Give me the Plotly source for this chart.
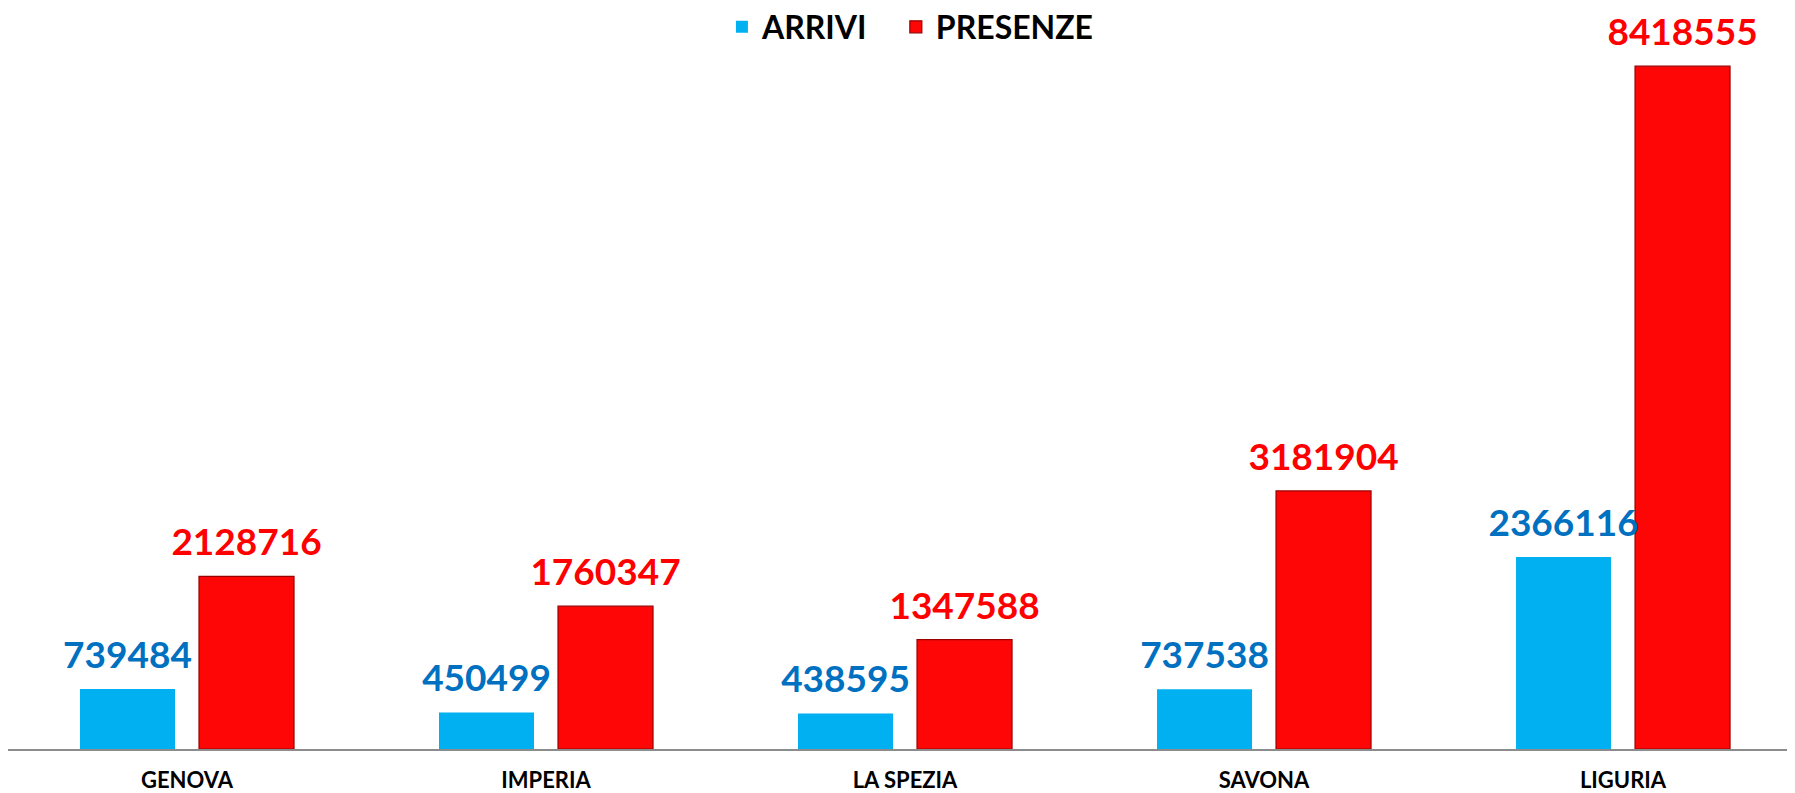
import plotly.graph_objects as go

categories = ["GENOVA", "IMPERIA", "LA SPEZIA", "SAVONA", "LIGURIA"]
arrivi = [739484, 450499, 438595, 737538, 2366116]
presenze = [2128716, 1760347, 1347588, 3181904, 8418555]

FONT = "Lato"

fig = go.Figure()
# visible bars
fig.add_trace(go.Bar(
    name="ARRIVI\u00a0\u00a0\u00a0", x=categories, y=arrivi,
    marker=dict(color="#00B0F0", line=dict(width=0)),
    hoverinfo="skip",
))
fig.add_trace(go.Bar(
    name="PRESENZE", x=categories, y=presenze,
    marker=dict(color="#FF0606", line=dict(width=1.2, color="#9A0000")),
    hoverinfo="skip",
))
# overlay traces carrying the data labels (drawn above all bars)
fig.add_trace(go.Bar(
    x=categories, y=arrivi, xaxis="x2", yaxis="y2", showlegend=False,
    marker=dict(color="rgba(0,0,0,0)", line=dict(width=0)),
    text=[str(v) for v in arrivi], textposition="outside",
    textfont=dict(family=FONT, size=37, color="#0070C0", weight="bold"),
    constraintext="none", cliponaxis=False, hoverinfo="skip",
))
fig.add_trace(go.Bar(
    x=categories, y=presenze, xaxis="x2", yaxis="y2", showlegend=False,
    marker=dict(color="rgba(0,0,0,0)", line=dict(width=0)),
    text=[str(v) for v in presenze], textposition="outside",
    textfont=dict(family=FONT, size=37, color="#FF0000", weight="bold"),
    constraintext="none", cliponaxis=False, hoverinfo="skip",
))

PLOT_H = 730
LIFT = 10
XR = [-0.4986, 4.479]
YMAX = 9e6
shift = YMAX * LIFT / PLOT_H
fig.update_layout(
    width=1787, height=785,
    margin=dict(l=0, r=0, t=11, b=44, autoexpand=False),
    paper_bgcolor="white", plot_bgcolor="white",
    barmode="group", bargap=0.337, bargroupgap=0.2017,
    showlegend=True,
    legend=dict(orientation="h", x=0.505, xanchor="center", y=0.989, yanchor="middle",
                font=dict(family=FONT, size=32, color="black", weight="bold"),
                bgcolor="rgba(0,0,0,0)", itemwidth=30),
    xaxis=dict(range=XR, showline=True, linecolor="#8C8C8C", linewidth=2,
               showgrid=False, zeroline=False, ticks="", ticklabelstandoff=11,
               tickfont=dict(family=FONT, size=22, color="black", weight="bold")),
    yaxis=dict(range=[0, YMAX], visible=False, showgrid=False, zeroline=False),
    xaxis2=dict(range=XR, overlaying="x", visible=False, matches="x"),
    yaxis2=dict(range=[-shift, YMAX - shift], overlaying="y", visible=False),
)

fig.write_html("out.html")
